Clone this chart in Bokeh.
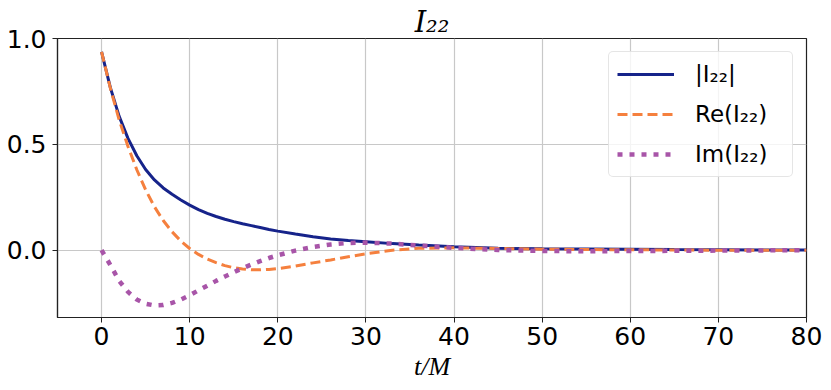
from bokeh.plotting import figure
from bokeh.models import Range1d, FixedTicker, PrintfTickFormatter, Legend, LegendItem
from bokeh.embed import file_html
from bokeh.resources import INLINE

# ---- data ----
t = [0, 1, 2, 3, 4, 5, 6, 7, 8, 9, 10, 11, 12, 13, 14, 15, 16, 17, 18, 19, 20,
     22, 24, 26, 28, 30, 33, 36, 40, 45, 50, 55, 60, 65, 70, 75, 80]
abs_I22 = [0.937, 0.768, 0.632, 0.528, 0.446, 0.381, 0.332, 0.294, 0.264, 0.237, 0.213,
           0.192, 0.174, 0.159, 0.146, 0.135, 0.125, 0.116, 0.107, 0.098, 0.090,
           0.076, 0.063, 0.053, 0.046, 0.040, 0.031, 0.024, 0.016, 0.009, 0.0065,
           0.0055, 0.0045, 0.003, 0.002, 0.001, 0.0005]
re_I22 = [0.937, 0.765, 0.615, 0.490, 0.380, 0.285, 0.205, 0.140, 0.087, 0.043, 0.008,
          -0.020, -0.042, -0.059, -0.073, -0.083, -0.089, -0.093, -0.093, -0.091, -0.087,
          -0.075, -0.060, -0.046, -0.031, -0.017, 0.000, 0.009, 0.011, 0.008, 0.005,
          0.003, 0.002, 0.001, 0.000, 0.000, 0.000]
im_I22 = [0.000, -0.070, -0.145, -0.197, -0.233, -0.253, -0.261, -0.259, -0.249, -0.233, -0.213,
          -0.190, -0.168, -0.145, -0.124, -0.104, -0.085, -0.068, -0.052, -0.037, -0.024,
          -0.002, 0.015, 0.027, 0.034, 0.036, 0.031, 0.022, 0.011, 0.001, -0.004,
          -0.005, -0.004, -0.003, -0.002, -0.001, 0.000]
series_labels = ["|I₂₂|", "Re(I₂₂)", "Im(I₂₂)"]
title_text = "I₂₂"
x_label = "t/M"
x_ticks = [0, 10, 20, 30, 40, 50, 60, 70, 80]
y_ticks = [0.0, 0.5, 1.0]
x_lim = (-5, 80)
y_lim = (-0.318, 1.0)

BLUE = "#16238a"
ORANGE = "#f5803e"
PURPLE = "#a855a8"

p = figure(width=831, height=390, output_backend="svg", toolbar_location=None,
           x_range=Range1d(*x_lim), y_range=Range1d(*y_lim),
           min_border_left=57, min_border_right=25, min_border_top=38, min_border_bottom=73)
p.background_fill_color = "white"
p.border_fill_color = "white"
p.outline_line_color = "#222222"
p.outline_line_width = 1.2

p.title.text = title_text
p.title.align = "center"
p.title.text_font = "DejaVu Serif"
p.title.text_font_style = "italic"
p.title.text_font_size = "29px"
p.title.text_color = "black"
p.title.standoff = 0

r1 = p.line(t, abs_I22, line_color=BLUE, line_width=3)
r2 = p.line(t, re_I22, line_color=ORANGE, line_width=3, line_dash="10 5")
r3 = p.line(t, im_I22, line_color=PURPLE, line_width=4.5, line_dash="5 7")

for ax in (p.xaxis, p.yaxis):
    ax.major_label_text_font = "DejaVu Sans"
    ax.major_label_text_font_size = "25px"
    ax.major_label_text_color = "black"
    ax.axis_line_color = "#222222"
    ax.axis_line_width = 1.2
    ax.major_tick_line_color = "#222222"
    ax.major_tick_out = 5
    ax.major_tick_in = 0
    ax.minor_tick_line_color = None

p.xaxis.ticker = FixedTicker(ticks=x_ticks)
p.yaxis.ticker = FixedTicker(ticks=y_ticks)
p.xaxis.formatter = PrintfTickFormatter(format="%d")
p.yaxis.formatter = PrintfTickFormatter(format="%.1f")
p.xaxis.major_label_standoff = 4
p.yaxis.major_label_standoff = 6

p.xaxis.axis_label = x_label
p.xaxis.axis_label_text_font = "Liberation Serif"
p.xaxis.axis_label_text_font_style = "italic"
p.xaxis.axis_label_text_font_size = "26px"
p.xaxis.axis_label_text_color = "black"
p.xaxis.axis_label_standoff = 4

p.grid.grid_line_color = "#c8c8c8"
p.grid.grid_line_width = 1.2

legend = Legend(items=[LegendItem(label=series_labels[0], renderers=[r1]),
                       LegendItem(label=series_labels[1], renderers=[r2]),
                       LegendItem(label=series_labels[2], renderers=[r3])],
                location="top_right")
legend.label_text_font = "DejaVu Sans"
legend.label_text_font_size = "23px"
legend.label_text_color = "black"
legend.glyph_width = 57
legend.glyph_height = 28
legend.label_height = 28
legend.label_width = 89
legend.label_standoff = 21
legend.spacing = 12
legend.padding = 8
legend.margin = 13
legend.border_line_color = "#cccccc"
legend.border_line_width = 1
legend.background_fill_alpha = 0.8
try:
    legend.border_radius = 5
except Exception:
    pass
p.add_layout(legend)

open("out.html", "w").write(file_html(p, INLINE))
